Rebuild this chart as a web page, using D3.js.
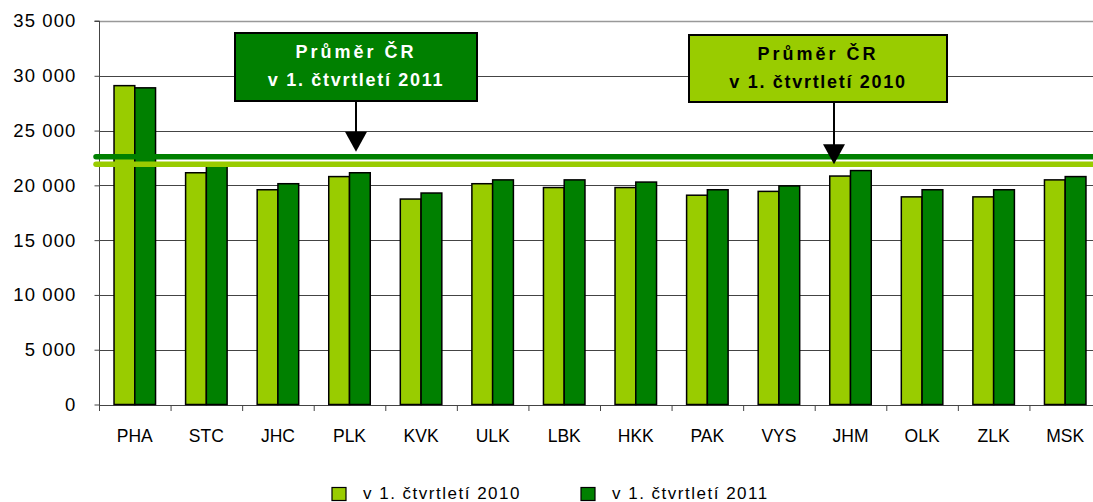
<!DOCTYPE html>
<html>
<head>
<meta charset="utf-8">
<script src="https://cdn.jsdelivr.net/npm/d3@7"></script>
<style>
  body { margin: 0; background: #fff; }
  svg { display: block; font-family: "Liberation Sans", Arial, sans-serif; }
</style>
</head>
<body>
<svg id="chart" width="1093" height="502"></svg>
<script>
// data
var regions = ["PHA","STC","JHC","PLK","KVK","ULK","LBK","HKK","PAK","VYS","JHM","OLK","ZLK","MSK"];
var q1_2010 = [29100, 21150, 19600, 20800, 18750, 20150, 19800, 19800, 19100, 19450, 20850, 18950, 18950, 20500];
var q1_2011 = [28900, 21800, 20150, 21150, 19300, 20500, 20500, 20300, 19600, 19950, 21350, 19600, 19600, 20800];
var avg2010 = 21920;
var avg2011 = 22620;
var seriesNames = ["v 1. čtvrtletí 2010", "v 1. čtvrtletí 2011"];
var yTicks = [0, 5000, 10000, 15000, 20000, 25000, 30000, 35000];

var light = "#99CC00", dark = "#008000";

var svg = d3.select("#chart");
var plotLeft = 99, plotRight = 1101, plotTop = 21, plotBottom = 404.5;

var x = d3.scaleBand().domain(regions).range([plotLeft, plotRight]).paddingInner(0.42).paddingOuter(0.21);
var x1 = d3.scaleBand().domain([0, 1]).range([0, x.bandwidth()]);
var y = d3.scaleLinear().domain([0, 35000]).range([plotBottom, plotTop]);
var fmt = function(v){ return d3.format(",")(v).replace(/,/g, " "); };

// gridlines
svg.append("g").selectAll("line").data(yTicks).enter().append("line")
    .attr("x1", plotLeft).attr("x2", 1093)
    .attr("y1", function(d){ return Math.round(y(d)) + 0.5; })
    .attr("y2", function(d){ return Math.round(y(d)) + 0.5; })
    .attr("stroke", function(d){ return d == 35000 ? "#999" : "#444"; })
    .attr("stroke-width", function(d){ return d == 35000 ? 1.5 : 1; });

// y axis
var ya = svg.append("g").attr("transform", "translate(" + (plotLeft + 0.5) + ",0)")
    .call(d3.axisLeft(y).tickValues(yTicks).tickFormat(fmt).tickSize(5).tickPadding(18));
ya.select(".domain").attr("stroke", "#444").attr("d", "M-5," + plotTop + "H0V" + (plotBottom + 0.5));
ya.selectAll(".tick line").attr("stroke", "#444");
ya.selectAll("text").attr("font-size", 18.5).attr("letter-spacing", 1.1).attr("fill", "#000")
    .attr("font-family", "Liberation Sans, Arial, sans-serif");

// x axis
var xa = svg.append("g").attr("transform", "translate(0," + (Math.round(plotBottom) + 0.5) + ")")
    .call(d3.axisBottom(x).tickSize(0).tickPadding(24));
xa.select(".domain").attr("stroke", "#444").attr("d", "M" + plotLeft + ",0H1093");
xa.selectAll("text").attr("font-size", 17.5).attr("fill", "#000")
    .attr("font-family", "Liberation Sans, Arial, sans-serif");
var step = x.step();
svg.append("g").selectAll("line").data(d3.range(regions.length + 1)).enter().append("line")
    .attr("x1", function(i){ return plotLeft + i * step + 0.5; })
    .attr("x2", function(i){ return plotLeft + i * step + 0.5; })
    .attr("y1", Math.round(plotBottom)).attr("y2", Math.round(plotBottom) + 6)
    .attr("stroke", "#444");

// bars
var series = [q1_2010, q1_2011];
var cols = [light, dark];
series.forEach(function(vals, si){
    svg.append("g").selectAll("rect").data(vals).enter().append("rect")
        .attr("x", function(d, i){ return x(regions[i]) + x1(si); })
        .attr("y", function(d){ return y(d); })
        .attr("width", x1.bandwidth())
        .attr("height", function(d){ return y(0) - y(d); })
        .attr("fill", cols[si])
        .attr("stroke", "#000").attr("stroke-width", 1.5);
});

// average lines
[[avg2011, dark], [avg2010, light]].forEach(function(a){
    svg.append("line")
        .attr("x1", 96).attr("x2", 1100)
        .attr("y1", y(a[0])).attr("y2", y(a[0]))
        .attr("stroke", a[1]).attr("stroke-width", 5.5).attr("stroke-linecap", "round");
});

// callouts
function callout(bx, by, bw, bh, fill, textColor, lines, ax, tipY)
{
    var g = svg.append("g");
    g.append("line").attr("x1", ax).attr("x2", ax).attr("y1", by + bh).attr("y2", tipY - 18)
        .attr("stroke", "#000").attr("stroke-width", 2);
    g.append("path").attr("d", "M" + (ax - 11) + "," + (tipY - 20) + "L" + (ax + 11) + "," + (tipY - 20) + "L" + ax + "," + tipY + "Z")
        .attr("fill", "#000");
    g.append("rect").attr("x", bx).attr("y", by).attr("width", bw).attr("height", bh)
        .attr("fill", fill).attr("stroke", "#000").attr("stroke-width", 2);
    lines.forEach(function(t, i){
        g.append("text").attr("x", bx + bw / 2).attr("y", by + 25 + i * 28)
            .attr("text-anchor", "middle").attr("font-size", 18).attr("font-weight", "bold")
            .attr("letter-spacing", i == 0 ? 3 : 1.7).attr("fill", textColor).text(t);
    });
}
callout(235, 33, 242, 68, dark, "#fff", ["Průměr ČR", "v 1. čtvrtletí 2011"], 356, y(avg2011) - 5);
callout(689, 35, 258, 67, light, "#000", ["Průměr ČR", "v 1. čtvrtletí 2010"], 834, y(avg2010));

// legend
var lg = svg.append("g");
[332, 581].forEach(function(lx, i){
    lg.append("rect").attr("x", lx).attr("y", 487.5).attr("width", 14).attr("height", 13)
        .attr("fill", cols[i]).attr("stroke", "#000").attr("stroke-width", 1.2);
    lg.append("text").attr("x", lx + 31).attr("y", 498.5).attr("font-size", 17)
        .attr("letter-spacing", 1.5).attr("fill", "#000").text(seriesNames[i]);
});
</script>
</body>
</html>
